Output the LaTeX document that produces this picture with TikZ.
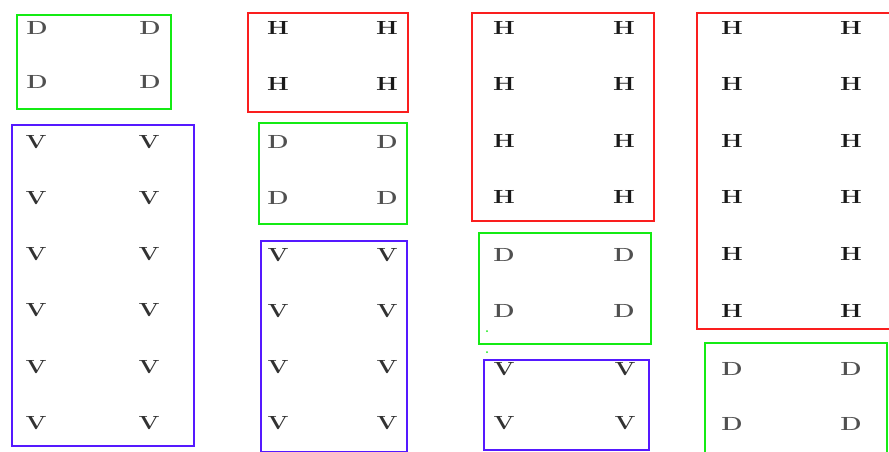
\documentclass[tikz,border=0pt]{standalone}
\definecolor{bxgreen}{RGB}{20,235,20}
\definecolor{bxred}{RGB}{250,30,30}
\definecolor{bxblue}{RGB}{85,25,255}
\definecolor{hcol}{RGB}{25,25,25}
\definecolor{vcol}{RGB}{50,50,50}
\definecolor{dcol}{RGB}{80,80,80}
\newcommand\ltrw[1]{\scalebox{1.3}[1]{#1}}
\begin{document}
\begin{tikzpicture}[x=1pt,y=-1pt,
  lt/.style={inner sep=0pt, font=\fontsize{19}{19}\selectfont\bfseries},
  hl/.style={lt, text=hcol},
  vl/.style={lt, text=vcol},
  dl/.style={lt, text=dcol},
  gbox/.style={draw=bxgreen, line width=2.1pt},
  rbox/.style={draw=bxred, line width=2.1pt},
  bbox/.style={draw=bxblue, line width=2.1pt}]
\useasboundingbox (0,0) rectangle (889,451);
% column 1
\draw[gbox] (17,15) rectangle (171,109);
\foreach \y [count=\i] in {28,82}{
  \node[dl] (c1d\i a) at (37,\y) {\ltrw{D}};
  \node[dl] (c1d\i b) at (150,\y) {\ltrw{D}};}
\draw[bbox] (12,125) rectangle (194,446);
\foreach \y [count=\i] in {142,198,254,310,367,423}{
  \node[vl] (c1v\i a) at (36,\y) {\ltrw{V}};
  \node[vl] (c1v\i b) at (149,\y) {\ltrw{V}};}
% column 2
\draw[rbox] (248,13) rectangle (408,112);
\foreach \y [count=\i] in {28,84}{
  \node[hl] (c2h\i a) at (278,\y) {\ltrw{H}};
  \node[hl] (c2h\i b) at (387,\y) {\ltrw{H}};}
\draw[gbox] (259,123) rectangle (407,224);
\foreach \y [count=\i] in {142,198}{
  \node[dl] (c2d\i a) at (278,\y) {\ltrw{D}};
  \node[dl] (c2d\i b) at (387,\y) {\ltrw{D}};}
\draw[bbox] (261,241) rectangle (407,452);
\foreach \y [count=\i] in {255,311,367,423}{
  \node[vl] (c2v\i a) at (278,\y) {\ltrw{V}};
  \node[vl] (c2v\i b) at (387,\y) {\ltrw{V}};}
% column 3
\draw[rbox] (472,13) rectangle (654,221);
\foreach \y [count=\i] in {28,84,141,197}{
  \node[hl] (c3h\i a) at (504,\y) {\ltrw{H}};
  \node[hl] (c3h\i b) at (624,\y) {\ltrw{H}};}
\draw[gbox] (479,233) rectangle (651,344);
\foreach \y [count=\i] in {255,311}{
  \node[dl] (c3d\i a) at (504,\y) {\ltrw{D}};
  \node[dl] (c3d\i b) at (624,\y) {\ltrw{D}};}
\fill[bxgreen] (487,331) circle (1);
\fill[bxgreen] (487,352) circle (1);
\draw[bbox] (484,360) rectangle (649,450);
\foreach \y [count=\i] in {369,423}{
  \node[vl] (c3v\i a) at (504,\y) {\ltrw{V}};
  \node[vl] (c3v\i b) at (625,\y) {\ltrw{V}};}
% column 4
\draw[rbox] (697,13) rectangle (895,329);
\foreach \y [count=\i] in {28,84,141,197,254,311}{
  \node[hl] (c4h\i a) at (732,\y) {\ltrw{H}};
  \node[hl] (c4h\i b) at (851,\y) {\ltrw{H}};}
\draw[gbox] (705,343) rectangle (887,455);
\foreach \y [count=\i] in {369,424}{
  \node[dl] (c4d\i a) at (732,\y) {\ltrw{D}};
  \node[dl] (c4d\i b) at (851,\y) {\ltrw{D}};}
\end{tikzpicture}
\end{document}
